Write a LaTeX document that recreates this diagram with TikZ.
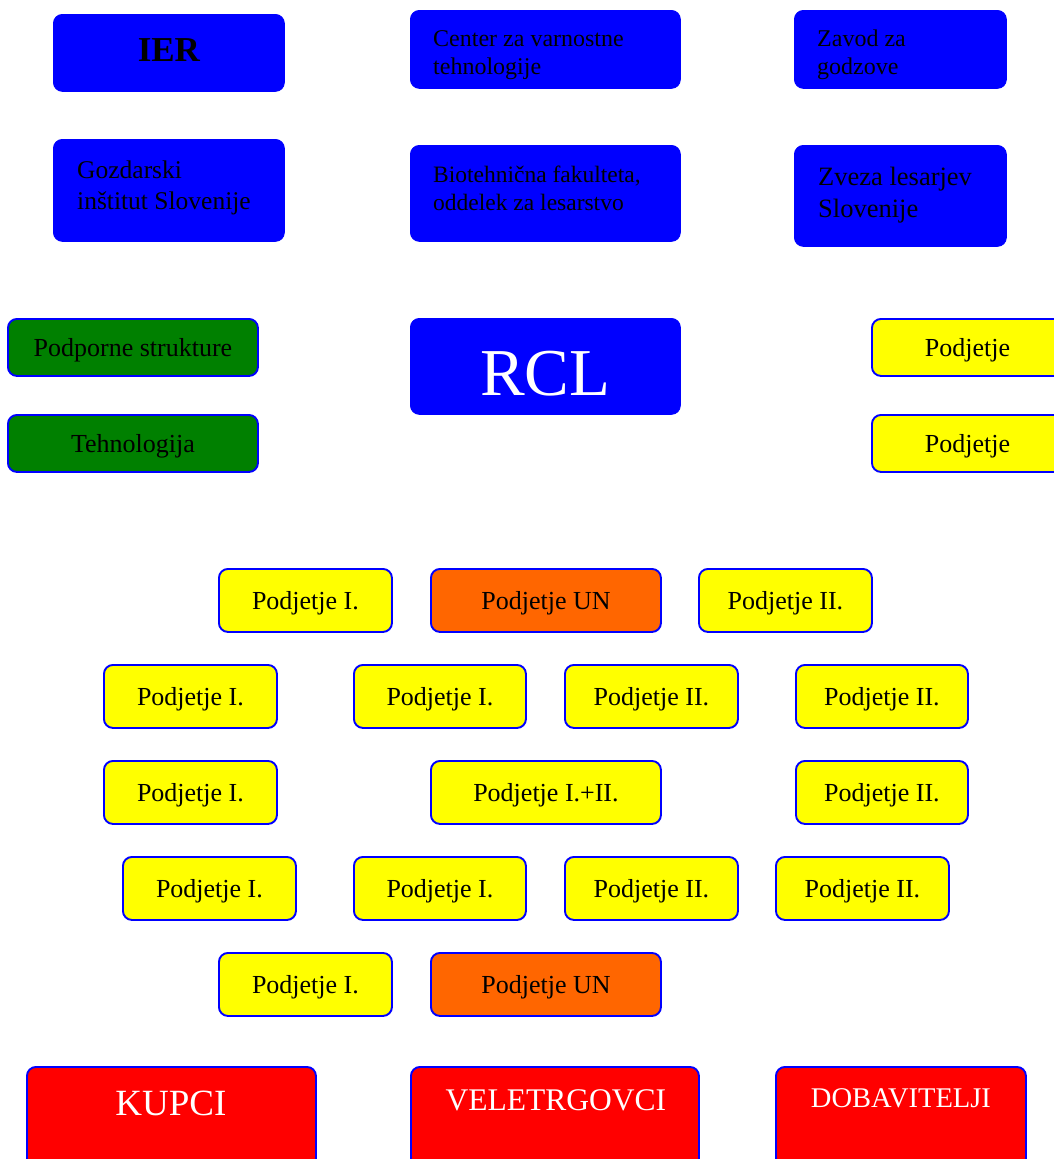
\documentclass[tikz,border=0pt]{standalone}
\usepackage{fontspec}
\setmainfont{Liberation Serif}
\definecolor{cblue}{RGB}{0,0,255}
\definecolor{cgreen}{RGB}{0,128,0}
\definecolor{cyellow}{RGB}{255,255,0}
\definecolor{corange}{RGB}{255,102,0}
\definecolor{cred}{RGB}{255,0,0}
\tikzset{
  bx/.style={draw=cblue, line width=1.9pt, rounded corners=9pt, anchor=north west, inner sep=0pt, align=center, font=\fontsize{26}{30}\selectfont},
  bluebox/.style={bx, fill=cblue, line width=0.8pt},
  onel/.style={text height=18pt, text depth=0.6pt},
  ylw/.style={bx, onel, fill=cyellow},
  org/.style={bx, onel, fill=corange},
  grn/.style={bx, onel, fill=cgreen},
  redbox/.style={bx, fill=cred},
  ltxt/.style={anchor=west, align=left, inner sep=0pt},
  ctxt/.style={anchor=center, inner sep=0pt},
}
\newcommand{\mkbox}[7]{\node[#6, minimum width={#4-#2}, minimum height={#5-#3}] (#1) at (#2,#3) {#7};}
\begin{document}
\begin{tikzpicture}[x=1pt,y=-1pt]
\useasboundingbox (0,0) rectangle (1054,1159);
\clip (0,0) rectangle (1054,1159);
% row 1
\mkbox{ier}{53}{14}{284}{91}{bluebox, label={[ctxt, yshift=3pt, font=\fontsize{35}{40}\bfseries]center:IER}}{}
\mkbox{cvt}{410}{10}{680}{88}{bluebox, label={[ltxt, xshift=23pt, yshift=-6pt, font=\fontsize{24}{28}\selectfont]west:Center za varnostne\\tehnologije}}{}
\mkbox{zg}{794}{10}{1006}{88}{bluebox, label={[ltxt, xshift=23pt, yshift=-5pt, font=\fontsize{24}{28}\selectfont]west:Zavod za\\godzove}}{}
% row 2
\mkbox{gis}{53}{139}{284}{241}{bluebox, label={[ltxt, xshift=24pt, yshift=2.5pt, font=\fontsize{25.5}{31}\selectfont]west:Gozdarski\\inštitut Slovenije}}{}
\mkbox{bf}{410}{145}{680}{241}{bluebox, label={[ltxt, xshift=23pt, yshift=5pt, font=\fontsize{23.5}{28}\selectfont]west:Biotehnična fakulteta,\\oddelek za lesarstvo}}{}
\mkbox{zls}{794}{145}{1006}{246}{bluebox, label={[ltxt, xshift=24pt, yshift=1pt, font=\fontsize{26.5}{32}\selectfont]west:Zveza lesarjev\\Slovenije}}{}
% row 3
\mkbox{ps}{7}{318}{257}{375}{grn}{Podporne strukture}
\mkbox{teh}{7}{414}{257}{471}{grn}{Tehnologija}
\mkbox{rcl}{410}{318}{680}{414}{bluebox, label={[ctxt, yshift=-7pt, text=white, font=\fontsize{67}{70}\selectfont]center:RCL}}{}
\mkbox{p1}{871}{318}{1064}{375}{ylw, text width=193pt, inner xsep=0pt, align=left}{\hspace*{53pt}Podjetje}
\mkbox{p2}{871}{414}{1064}{471}{ylw, text width=193pt, inner xsep=0pt, align=left}{\hspace*{53pt}Podjetje}
% row A
\mkbox{a1}{218}{568}{391}{631}{ylw}{Podjetje I.}
\mkbox{a2}{430}{568}{660}{631}{org}{Podjetje UN}
\mkbox{a3}{698}{568}{871}{631}{ylw}{Podjetje II.}
% row B
\mkbox{b1}{103}{664}{276}{727}{ylw}{Podjetje I.}
\mkbox{b2}{353}{664}{525}{727}{ylw}{Podjetje I.}
\mkbox{b3}{564}{664}{737}{727}{ylw}{Podjetje II.}
\mkbox{b4}{795}{664}{967}{727}{ylw}{Podjetje II.}
% row C
\mkbox{c1}{103}{760}{276}{823}{ylw}{Podjetje I.}
\mkbox{c2}{430}{760}{660}{823}{ylw}{Podjetje I.+II.}
\mkbox{c3}{795}{760}{967}{823}{ylw}{Podjetje II.}
% row D
\mkbox{d1}{122}{856}{295}{919}{ylw}{Podjetje I.}
\mkbox{d2}{353}{856}{525}{919}{ylw}{Podjetje I.}
\mkbox{d3}{564}{856}{737}{919}{ylw}{Podjetje II.}
\mkbox{d4}{775}{856}{948}{919}{ylw}{Podjetje II.}
% row E
\mkbox{e1}{218}{952}{391}{1015}{ylw}{Podjetje I.}
\mkbox{e2}{430}{952}{660}{1015}{org}{Podjetje UN}
% bottom
\mkbox{kup}{26}{1066}{315}{1185}{redbox, label={[anchor=center, text=white, font=\fontsize{37}{40}\selectfont, yshift=-37pt, xshift=-0.5pt]north:KUPCI}}{}
\mkbox{vel}{410}{1066}{698}{1185}{redbox, label={[anchor=center, text=white, font=\fontsize{31.5}{36}\selectfont, yshift=-34pt, xshift=1pt]north:VELETRGOVCI}}{}
\mkbox{dob}{775}{1066}{1025}{1185}{redbox, label={[anchor=center, text=white, font=\fontsize{28.5}{32}\selectfont, yshift=-32pt]north:DOBAVITELJI}}{}
\end{tikzpicture}
\end{document}
